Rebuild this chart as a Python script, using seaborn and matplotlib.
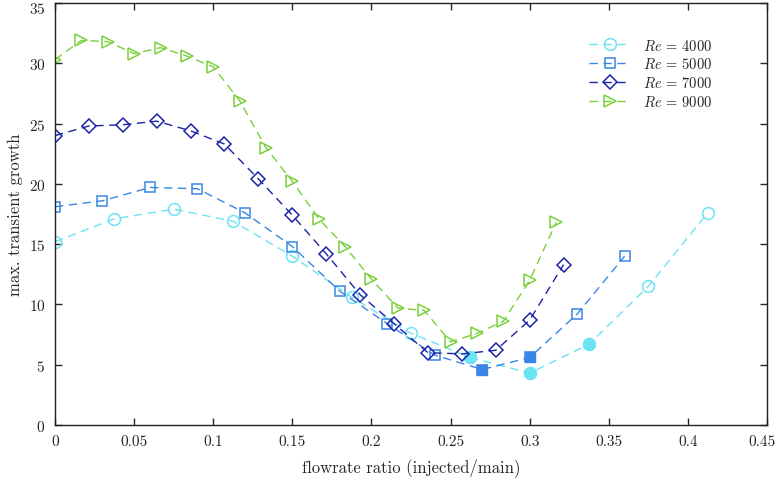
import matplotlib
matplotlib.use("Agg")
import matplotlib.pyplot as plt
import matplotlib.transforms as mtransforms
import seaborn as sns
import numpy as np
import pandas as pd

# --- data ---
x_4000 = [0, 0.0375, 0.075, 0.1125, 0.15, 0.1875, 0.225, 0.2625, 0.3, 0.3375, 0.375, 0.4125]
y_4000 = [15.2, 17.1, 17.9, 16.9, 14.0, 10.6, 7.6, 5.6, 4.3, 6.7, 11.5, 17.6]
filled_4000 = [7, 8, 9]

x_5000 = [0, 0.03, 0.06, 0.09, 0.12, 0.15, 0.18, 0.21, 0.24, 0.27, 0.30, 0.33, 0.36]
y_5000 = [18.1, 18.6, 19.7, 19.6, 17.6, 14.8, 11.1, 8.4, 5.8, 4.6, 5.6, 9.2, 14.0]
filled_5000 = [9, 10]

x_7000 = [0, 0.0214, 0.0429, 0.0643, 0.0857, 0.1071, 0.1286, 0.15, 0.1714, 0.1929,
          0.2143, 0.2357, 0.2571, 0.2786, 0.30, 0.3214]
y_7000 = [24.0, 24.8, 24.9, 25.2, 24.4, 23.3, 20.4, 17.4, 14.2, 10.8,
          8.4, 6.0, 5.9, 6.2, 8.7, 13.3]

x_9000 = [0, 0.0167, 0.0333, 0.05, 0.0667, 0.0833, 0.1, 0.1167, 0.1333, 0.15,
          0.1667, 0.1833, 0.2, 0.2167, 0.2333, 0.25, 0.2667, 0.2833, 0.30, 0.3167]
y_9000 = [30.3, 31.9, 31.8, 30.8, 31.3, 30.6, 29.7, 26.9, 23.0, 20.2,
          17.1, 14.8, 12.1, 9.7, 9.5, 6.9, 7.6, 8.6, 12.0, 16.8]

xtick_labels = ["0", "0.05", "0.1", "0.15", "0.2", "0.25", "0.3", "0.35", "0.4", "0.45"]
labels = [r"$Re\,=\,4000$", r"$Re\,=\,5000$", r"$Re\,=\,7000$", r"$Re\,=\,9000$"]
colors = ["#6ce3f4", "#3a86e6", "#1b24a8", "#79d03a"]
markers = ["o", "s", "D", ">"]
msizes = [8.5, 6.5, 7.5, 8.5]

sns.set_style("ticks")
plt.rcParams["font.family"] = ["cmr10", "DejaVu Serif"]
plt.rcParams["mathtext.fontset"] = "cm"
plt.rcParams["axes.formatter.use_mathtext"] = True

fig = plt.figure(figsize=(7.78, 4.81), dpi=100)
ax = fig.add_axes([0.0707, 0.1143, 0.9152, 0.8774])

series = [(x_4000, y_4000, filled_4000), (x_5000, y_5000, filled_5000),
          (x_7000, y_7000, []), (x_9000, y_9000, [])]

for (xs, ys, filled), lab, c, m, ms in zip(series, labels, colors, markers, msizes):
    df = pd.DataFrame({"x": xs, "y": ys})
    sns.lineplot(data=df, x="x", y="y", ax=ax, color=c, marker=m, markersize=ms,
                 markerfacecolor="none", markeredgecolor=c, markeredgewidth=1.1,
                 linewidth=1.0, linestyle=(0, (6, 4)), label=lab, sort=False)
    if filled:
        fd = df.iloc[filled]
        ax.plot(fd["x"], fd["y"], linestyle="none", marker=m, markersize=ms,
                color=c, markeredgecolor=c)

ax.set_xlim(0, 0.45)
ax.set_ylim(0, 35)
ax.set_xticks(np.arange(0, 0.451, 0.05))
ax.set_xticklabels(xtick_labels)
ax.set_yticks(np.arange(0, 36, 5))
ax.tick_params(direction="in", top=True, right=True, length=5, width=1,
               labelsize=11, pad=7)
for sp in ax.spines.values():
    sp.set_linewidth(1)
    sp.set_visible(True)
    sp.set_color("#222222")

# edge tick labels sit at the figure border, nudge them in a bit
last = ax.get_xticklabels()[-1]
last.set_transform(last.get_transform() +
                   mtransforms.ScaledTranslation(-5 / 100, 0, fig.dpi_scale_trans))
top = ax.get_yticklabels()[-1]
top.set_transform(top.get_transform() +
                  mtransforms.ScaledTranslation(0, -4 / 100, fig.dpi_scale_trans))

ax.set_xlabel("flowrate ratio (injected/main)", fontsize=12, labelpad=6)
ax.set_ylabel("max. transient growth", fontsize=12, labelpad=4)

leg = ax.legend(loc="upper right", frameon=False, fontsize=10.5,
                bbox_to_anchor=(0.9225, 0.918), borderaxespad=0, borderpad=0,
                handlelength=2.8, labelspacing=0.26, handletextpad=0.85)

fig.savefig("out.png", dpi=100)
